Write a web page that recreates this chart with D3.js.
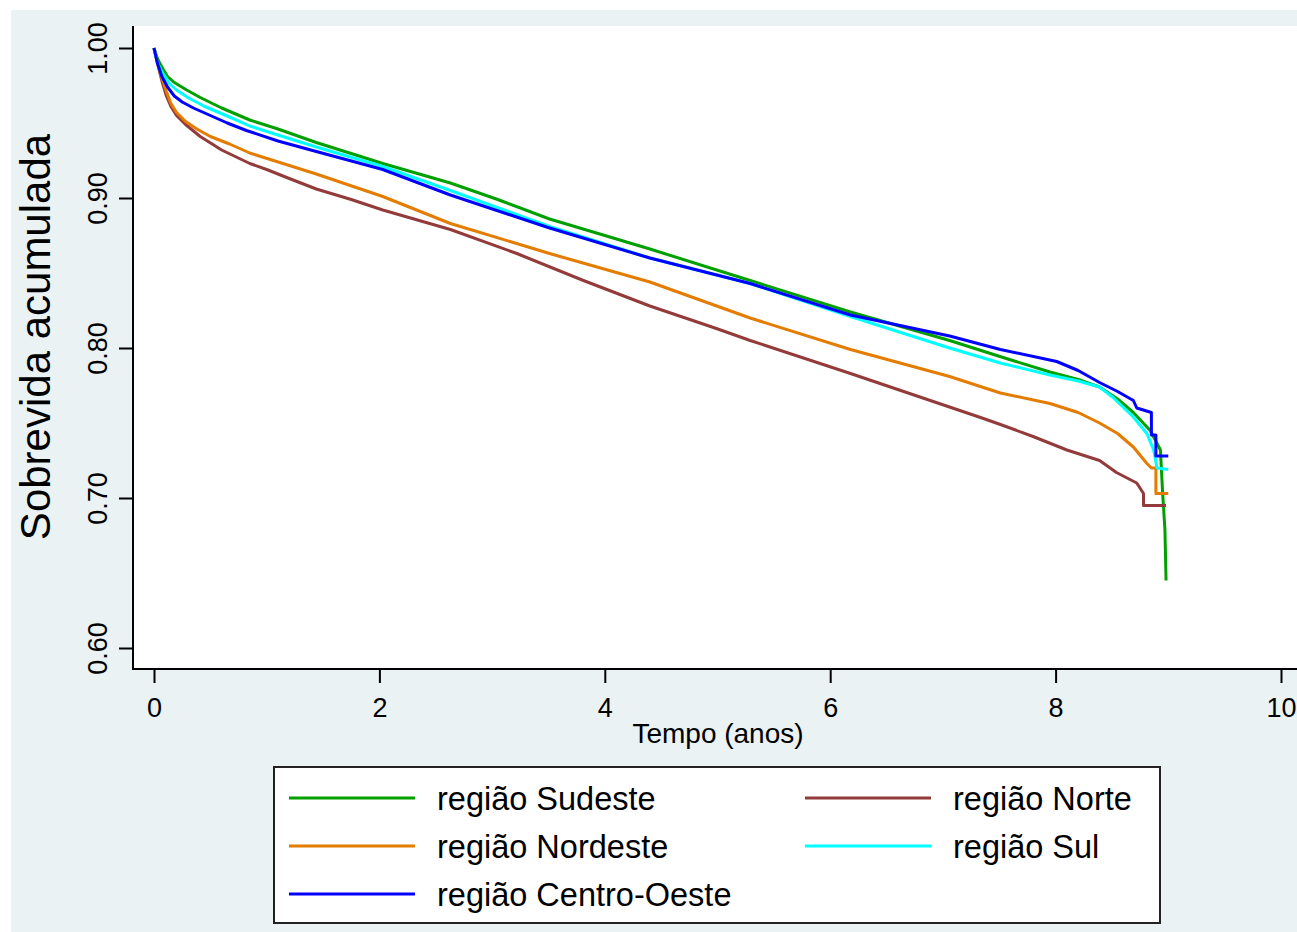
<!DOCTYPE html>
<html>
<head>
<meta charset="utf-8">
<script src="https://cdn.jsdelivr.net/npm/d3@7"></script>
<style>
  body { margin: 0; background: #fff; }
  svg { display: block; font-family: "Liberation Sans", Arial, sans-serif; }
</style>
</head>
<body>
<svg id="chart" width="1297" height="932"></svg>
<script>
// Kaplan-Meier curves: [tempo (anos), sobrevida]
const sudeste = [[0,1.0],[0.02,0.995],[0.05,0.990],[0.08,0.986],[0.12,0.981],[0.18,0.977],[0.29,0.972],
  [0.41,0.967],[0.6,0.960],[0.85,0.952],[1.1,0.946],[1.44,0.937],[2.03,0.923],[2.63,0.910],[3.05,0.899],
  [3.51,0.886],[4.0,0.875],[4.40,0.866],[5.29,0.845],[6.18,0.824],[7.06,0.805],
  [7.52,0.794],[7.95,0.784],[8.2,0.779],[8.39,0.774],[8.55,0.766],[8.69,0.757],[8.84,0.745],[8.93,0.732],
  [8.95,0.703],[8.97,0.679],[8.98,0.645]];
const norte = [[0,1.0],[0.03,0.990],[0.07,0.978],[0.11,0.968],[0.15,0.961],[0.2,0.955],[0.28,0.949],
  [0.41,0.941],[0.6,0.932],[0.85,0.923],[1.0,0.919],[1.2,0.913],[1.44,0.906],[1.75,0.899],[2.03,0.892],
  [2.63,0.879],[3.22,0.863],[3.81,0.845],[4.40,0.828],[4.99,0.813],[5.29,0.805],[6.18,0.783],
  [6.77,0.768],[7.36,0.753],[7.51,0.749],[7.80,0.741],[8.10,0.732],[8.39,0.725],[8.54,0.717],[8.72,0.710],
  [8.78,0.703],[8.78,0.695],[8.98,0.695]];
const nordeste = [[0,1.0],[0.03,0.990],[0.07,0.980],[0.11,0.971],[0.15,0.963],[0.2,0.957],[0.28,0.951],
  [0.38,0.946],[0.5,0.941],[0.67,0.936],[0.85,0.930],[1.44,0.916],[2.03,0.901],[2.63,0.883],[3.51,0.863],
  [4.40,0.844],[5.29,0.820],[6.18,0.799],[7.06,0.781],[7.51,0.770],[7.95,0.763],[8.2,0.757],[8.39,0.750],
  [8.55,0.743],[8.69,0.734],[8.81,0.723],[8.85,0.720],[8.89,0.720],[8.89,0.703],[9.00,0.703]];
const sul = [[0,1.0],[0.03,0.990],[0.08,0.983],[0.14,0.976],[0.2,0.972],[0.3,0.967],[0.45,0.961],
  [0.67,0.954],[0.85,0.948],[1.1,0.942],[1.44,0.934],[2.03,0.921],[2.63,0.905],[3.51,0.881],[4.40,0.860],
  [5.29,0.843],[6.18,0.821],[7.06,0.800],[7.51,0.790],[7.95,0.782],[8.2,0.778],[8.39,0.774],[8.51,0.767],
  [8.69,0.754],[8.81,0.743],[8.87,0.732],[8.90,0.720],[9.00,0.719]];
const centroOeste = [[0,1.0],[0.03,0.990],[0.07,0.981],[0.12,0.974],[0.18,0.968],[0.25,0.964],[0.35,0.960],
  [0.47,0.956],[0.65,0.950],[0.82,0.945],[1.1,0.938],[1.44,0.931],[2.03,0.919],[2.63,0.902],[3.51,0.880],
  [4.40,0.860],[5.29,0.843],[6.18,0.822],[6.62,0.815],[7.06,0.808],[7.51,0.799],[8.01,0.791],[8.2,0.785],
  [8.39,0.777],[8.55,0.771],[8.69,0.765],[8.72,0.760],[8.85,0.757],[8.85,0.742],[8.89,0.742],
  [8.89,0.728],[9.00,0.728]];

const seriesNames = ['região Sudeste', 'região Norte', 'região Nordeste', 'região Sul', 'região Centro-Oeste'];
const seriesData = [sudeste, norte, nordeste, sul, centroOeste];
const seriesColors = ['#00a000', '#933a3a', '#e47c00', '#00ffff', '#0000ff'];

const xTicks = [0, 2, 4, 6, 8, 10];
const yTicks = [0.60, 0.70, 0.80, 0.90, 1.00];

const svg = d3.select('#chart');
const x = d3.scaleLinear().domain([0, 10]).range([154, 1281]);
const y = d3.scaleLinear().domain([0.6, 1.0]).range([648, 48]);

// backgrounds
svg.append('rect').attr('x', 11).attr('y', 10).attr('width', 1286).attr('height', 922).attr('fill', '#eaf2f3');
svg.append('rect').attr('x', 133).attr('y', 26).attr('width', 1164).attr('height', 643).attr('fill', '#fff');

// curves
const line = d3.line().x(d => x(d[0])).y(d => y(d[1]));
seriesData.forEach((d, i) => {
    svg.append('path').datum(d)
        .attr('d', line)
        .attr('fill', 'none')
        .attr('stroke', seriesColors[i])
        .attr('stroke-width', 3)
        .attr('stroke-linejoin', 'round');
});

// y axis
let yAxis = svg.append('g').attr('transform', 'translate(133,0)')
    .call(d3.axisLeft(y).tickValues(yTicks).tickFormat(d3.format('.2f')).tickSize(14));
yAxis.select('.domain').remove();
yAxis.selectAll('line').attr('stroke', '#000').attr('stroke-width', 2);
yAxis.selectAll('text')
    .attr('transform', 'rotate(-90)')
    .attr('x', 0).attr('y', -26).attr('dy', 0)
    .attr('text-anchor', 'middle')
    .attr('fill', '#000')
    .style('font-size', '27px')
    .style('font-family', '"Liberation Sans", Arial, sans-serif');

// x axis
let xAxis = svg.append('g').attr('transform', 'translate(0,669)')
    .call(d3.axisBottom(x).tickValues(xTicks).tickFormat(d3.format('d')).tickSize(14));
xAxis.select('.domain').remove();
xAxis.selectAll('line').attr('stroke', '#000').attr('stroke-width', 2);
xAxis.selectAll('text')
    .attr('y', 48).attr('dy', 0)
    .attr('fill', '#000')
    .style('font-size', '27px')
    .style('font-family', '"Liberation Sans", Arial, sans-serif');

// axis lines
svg.append('line').attr('x1', 133).attr('x2', 133).attr('y1', 26).attr('y2', 670)
    .attr('stroke', '#000').attr('stroke-width', 2);
svg.append('line').attr('x1', 132).attr('x2', 1297).attr('y1', 669).attr('y2', 669)
    .attr('stroke', '#000').attr('stroke-width', 2);

// titles
svg.append('text').attr('x', 718).attr('y', 743).attr('text-anchor', 'middle')
    .style('font-size', '28px').text('Tempo (anos)');
svg.append('text').attr('transform', 'translate(50,337) rotate(-90)').attr('text-anchor', 'middle')
    .style('font-size', '42px').text('Sobrevida acumulada');

// legend (row-wise, two columns)
const legend = svg.append('g');
legend.append('rect').attr('x', 274).attr('y', 767).attr('width', 886).attr('height', 156)
    .attr('fill', '#fff').attr('stroke', '#222').attr('stroke-width', 2);
seriesNames.forEach((name, i) => {
    let col = i % 2, row = Math.floor(i / 2);
    let lx = col === 0 ? 289 : 805;
    let ly = 798 + row * 48;
    legend.append('line').attr('x1', lx).attr('x2', lx + 126).attr('y1', ly).attr('y2', ly)
        .attr('stroke', seriesColors[i]).attr('stroke-width', 3);
    legend.append('text').attr('x', lx + 148).attr('y', ly + 12)
        .style('font-size', '32.5px').text(name);
});
</script>
</body>
</html>
